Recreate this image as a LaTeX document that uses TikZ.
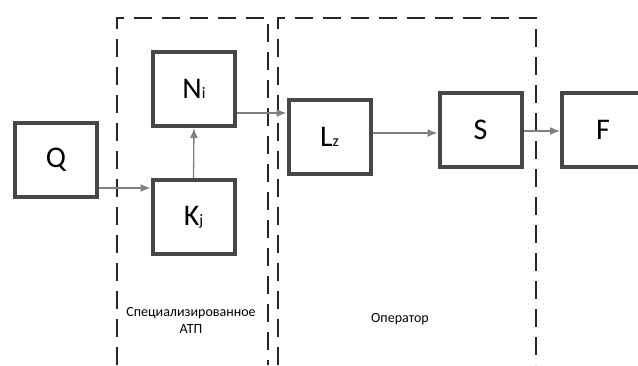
\documentclass[tikz,border=0pt]{standalone}
\usepackage{fontspec}
\setmainfont{Carlito}
\usetikzlibrary{arrows.meta}

\newcommand{\lowidx}[1]{{\fontsize{16}{16}\selectfont #1}}

\begin{document}
\begin{tikzpicture}[x=1pt, y=-1pt]

  \tikzset{block/.style = {shape=rectangle, draw=black!72, line width=4pt,
      minimum width=82pt, minimum height=74pt, inner sep=0pt,
      font=\fontsize{30}{32}\selectfont}}
  \tikzset{edge/.style = {->, > = {Latex[length=10pt,width=8pt]}, draw=black!50, fill=black!50, line width=1.3pt}}
  \tikzset{frame/.style = {draw=black!85, line width=1.7pt, dash pattern=on 18pt off 10pt}}
  \tikzset{caption/.style = {font=\fontsize{14}{17}\selectfont, align=center}}
  \useasboundingbox (0,0) rectangle (638,365);
  % frames
  \draw[frame] (117,365) -- (117,18) -- (268,18) -- (268,365);
  \draw[frame] (278,365) -- (278,18) -- (536,18) -- (536,365);
  % blocks
  \node[block] (q) at (56,159.5)   {Q};
  \node[block] (n) at (194,89)     {N\lowidx{i}};
  \node[block] (k) at (193.5,217)  {K\lowidx{j}};
  \node[block] (l) at (329.5,136.5){L\lowidx{z}};
  \node[block] (s) at (480.5,130)  {S};
  \node[block] (f) at (603,129.5)  {F};
  % captions
  \node[caption] (atp) at (191,320) {Специализированное\\АТП};
  \node[caption] (op)  at (400,319) {Оператор};
  %edges
  \draw[edge] (q.east |- 0,188) -- (k.west |- 0,188);
  \draw[edge] (k.north) -- (n.south);
  \draw[edge] (n.east |- 0,113) -- (l.west |- 0,113);
  \draw[edge] (l.east |- 0,133) -- (s.west |- 0,133);
  \draw[edge] (s.east |- 0,131) -- (f.west |- 0,131);
\end{tikzpicture}
\end{document}
